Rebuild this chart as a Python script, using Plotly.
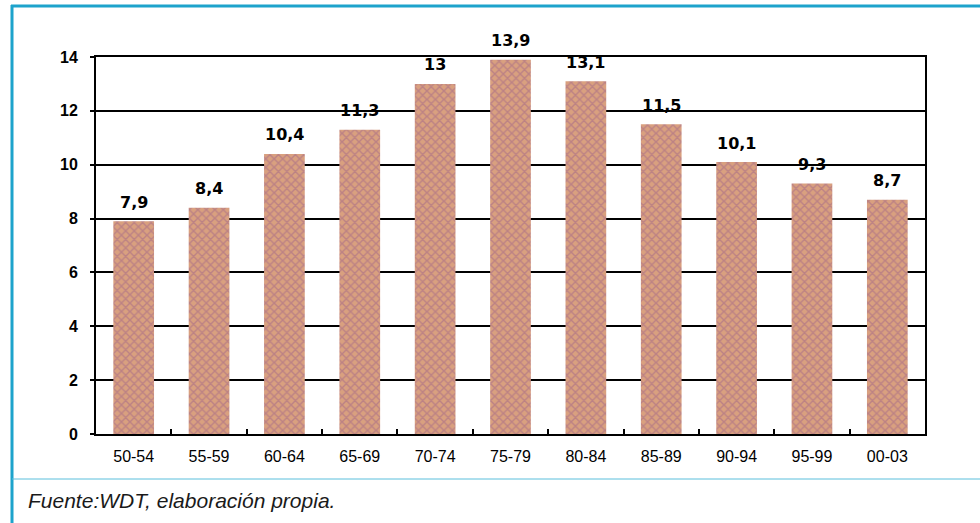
import plotly.graph_objects as go

categories = ["50-54", "55-59", "60-64", "65-69", "70-74", "75-79",
              "80-84", "85-89", "90-94", "95-99", "00-03"]
values = [7.9, 8.4, 10.4, 11.3, 13, 13.9, 13.1, 11.5, 10.1, 9.3, 8.7]
value_labels = ["7,9", "8,4", "10,4", "11,3", "13", "13,9", "13,1", "11,5", "10,1", "9,3", "8,7"]
y_ticks = [0, 2, 4, 6, 8, 10, 12, 14]
source_note = "Fuente:WDT, elaboración propia."

W, H = 980, 523
L, R, T, B = 96, 55, 57, 89
pw, ph = W - L - R, H - T - B

def px_x(p):
    return (p - L) / pw

def px_y(p):
    return (H - B - p) / ph

fig = go.Figure()
fig.add_trace(go.Bar(
    x=categories, y=values, width=0.54,
    marker=dict(color="#d9a07f", line=dict(width=0),
                pattern=dict(shape="x", fgcolor="#a0648a", size=6, solidity=0.42)),
    hoverinfo="skip",
))

for c, v, t in zip(categories, values, value_labels):
    fig.add_annotation(x=c, y=v, text="<b>" + t + "</b>", showarrow=False,
                       yanchor="middle", yshift=19,
                       font=dict(family="DejaVu Sans", size=16, color="black"))

blue = "#1da3cc"
shapes = [
    dict(type="line", xref="paper", yref="paper", x0=px_x(12), x1=px_x(12),
         y0=px_y(5), y1=px_y(530), line=dict(color=blue, width=3)),
    dict(type="line", xref="paper", yref="paper", x0=px_x(11), x1=px_x(985),
         y0=px_y(6), y1=px_y(6), line=dict(color=blue, width=3)),
    dict(type="line", xref="paper", yref="paper", x0=px_x(12), x1=px_x(985),
         y0=px_y(479), y1=px_y(479), line=dict(color="#5bbfdc", width=1)),
]

fig.add_annotation(xref="paper", yref="paper", x=px_x(26), y=px_y(500),
                   xanchor="left", yanchor="middle", showarrow=False,
                   text="<i>" + source_note + "</i>",
                   font=dict(family="Liberation Sans, Arial", size=21, color="#1a1a1a"))

fig.update_layout(
    width=W, height=H,
    margin=dict(l=L, r=R, t=T, b=B, pad=0),
    plot_bgcolor="white", paper_bgcolor="white",
    showlegend=False, bargap=0.46,
    shapes=shapes,
    font=dict(family="Liberation Sans, Arial", size=12, color="black"),
    xaxis=dict(type="category", showgrid=False, showline=True, linecolor="black",
               linewidth=2, mirror=True, ticks="inside", tickson="boundaries",
               ticklen=5, tickcolor="black", tickwidth=1.5, ticklabelstandoff=7,
               tickfont=dict(family="Liberation Sans, Arial", size=16, color="black")),
    yaxis=dict(range=[0, 14], tickvals=y_ticks, showgrid=True, gridcolor="black",
               gridwidth=1.5, showline=True, linecolor="black", linewidth=2,
               mirror=True, ticks="outside", ticklen=4, tickcolor="black",
               tickwidth=1.5, zeroline=False, ticklabelstandoff=9,
               tickfont=dict(family="Liberation Sans, Arial", size=16, color="black",
                             weight="bold")),
)

fig.write_html("out.html")
